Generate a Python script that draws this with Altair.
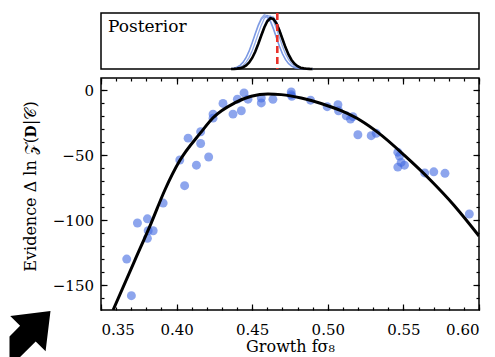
import altair as alt
import pandas as pd

# ---------------- data ----------------
fs8_pts = [0.4053, 0.3911, 0.3741, 0.3807, 0.3812, 0.3845, 0.3807, 0.3670, 0.3701,
           0.4021, 0.4131, 0.4212, 0.4076, 0.4159, 0.4159, 0.4241, 0.4241, 0.4307,
           0.4373, 0.4402, 0.4428, 0.4446, 0.4472, 0.4560, 0.4560, 0.4637, 0.4758,
           0.4758, 0.4762, 0.4886, 0.4996, 0.5067, 0.5071, 0.5122, 0.5150, 0.5166,
           0.5199, 0.5287, 0.5320, 0.5463, 0.5474, 0.5485, 0.5507, 0.5463, 0.5641,
           0.5701, 0.5775, 0.5936]
dlnz_pts = [-73.3, -86.7, -102.0, -98.8, -108.0, -108.0, -113.8, -129.8, -158.0,
            -53.5, -57.5, -51.2, -36.7, -31.8, -40.8, -18.2, -21.3, -10.0,
            -18.2, -6.7, -15.6, -1.9, -6.7, -5.8, -9.6, -6.8, -1.2,
            -3.2, -4.5, -7.5, -12.5, -11.0, -15.6, -19.5, -22.0, -20.2,
            -34.1, -34.8, -33.0, -47.5, -50.5, -55.4, -57.5, -59.0, -63.5,
            -62.6, -63.8, -95.1]

curve_fs8 = [0.3580, 0.3723, 0.3834, 0.3921, 0.4021, 0.4159, 0.4241, 0.4384, 0.4494,
             0.4604, 0.4692, 0.4824, 0.4956, 0.5088, 0.5220, 0.5331, 0.5507, 0.5683,
             0.5837, 0.6000]
curve_dlnz = [-169.0, -131.0, -101.5, -77.0, -54.0, -32.5, -21.0, -9.6, -4.5,
              -2.7, -3.2, -5.8, -10.0, -15.6, -23.3, -32.3, -50.0, -69.5,
              -88.7, -112.0]

post_grid = [0.436, 0.438, 0.440, 0.442, 0.444, 0.446, 0.448, 0.450, 0.452, 0.454,
             0.456, 0.458, 0.460, 0.462, 0.464, 0.466, 0.468, 0.470, 0.472, 0.474,
             0.476, 0.478, 0.480, 0.482, 0.484, 0.486, 0.488, 0.490]
post_black = [0.001, 0.003, 0.007, 0.015, 0.032, 0.064, 0.116, 0.197, 0.309, 0.447,
              0.598, 0.742, 0.853, 0.907, 0.893, 0.815, 0.687, 0.536, 0.387, 0.260,
              0.162, 0.093, 0.049, 0.024, 0.011, 0.005, 0.002, 0.001]
post_blue_1 = [0.003, 0.007, 0.016, 0.034, 0.068, 0.122, 0.208, 0.326, 0.472, 0.631,
               0.783, 0.900, 0.957, 0.942, 0.860, 0.725, 0.565, 0.408, 0.274, 0.171,
               0.098, 0.052, 0.025, 0.012, 0.005, 0.002, 0.001, 0.000]
post_blue_2 = [0.007, 0.015, 0.033, 0.066, 0.120, 0.204, 0.319, 0.462, 0.618, 0.767,
               0.881, 0.937, 0.922, 0.842, 0.710, 0.554, 0.400, 0.269, 0.167, 0.096,
               0.051, 0.025, 0.011, 0.005, 0.002, 0.001, 0.000, 0.000]
post_blue_3 = [0.001, 0.003, 0.007, 0.016, 0.033, 0.067, 0.121, 0.205, 0.321, 0.465,
               0.622, 0.772, 0.887, 0.943, 0.929, 0.848, 0.714, 0.557, 0.402, 0.270,
               0.168, 0.097, 0.051, 0.025, 0.011, 0.005, 0.002, 0.001]
post_blue_4 = [0.007, 0.015, 0.034, 0.068, 0.124, 0.211, 0.329, 0.477, 0.638, 0.792,
               0.909, 0.967, 0.952, 0.869, 0.733, 0.572, 0.413, 0.278, 0.172, 0.099,
               0.053, 0.026, 0.011, 0.005, 0.002, 0.001, 0.000, 0.000]
truth_fs8 = [0.4666]

x_major = [0.35, 0.40, 0.45, 0.50, 0.55, 0.60]
x_minor = [0.35, 0.36, 0.37, 0.38, 0.39, 0.40, 0.41, 0.42, 0.43, 0.44, 0.45, 0.46, 0.47,
           0.48, 0.49, 0.50, 0.51, 0.52, 0.53, 0.54, 0.55, 0.56, 0.57, 0.58, 0.59, 0.60]
y_major = [-150, -100, -50, 0]
y_minor = [-160, -150, -140, -130, -120, -110, -100, -90, -80, -70, -60, -50, -40,
           -30, -20, -10, 0]

X_DOMAIN = [0.35, 0.60]
Y_DOMAIN = [-169, 9.6]

# ---------------- tables ----------------
df_pts = pd.DataFrame({"fs8": fs8_pts, "dlnz": dlnz_pts})
df_curve = pd.DataFrame({"fs8": curve_fs8, "dlnz": curve_dlnz})
blue_rows = []
for name, ys_ in [("b1", post_blue_1), ("b2", post_blue_2), ("b3", post_blue_3), ("b4", post_blue_4)]:
    for xv, yv in zip(post_grid, ys_):
        blue_rows.append({"x": xv, "p": yv, "c": name})
df_blue = pd.DataFrame(blue_rows)
df_black = pd.DataFrame({"x": post_grid, "p": post_black})
df_truth = pd.DataFrame({"x": truth_fs8})

FONT = "DejaVu Serif"
xs = alt.Scale(domain=X_DOMAIN, nice=False, zero=False)
ysc = alt.Scale(domain=Y_DOMAIN, nice=False, zero=False)


def ax(orient, values, size, **kw):
    return alt.Axis(orient=orient, values=values, tickSize=size, offset=-size,
                    domain=False, grid=False, tickColor="black", tickWidth=1.2, **kw)


# ---------------- main panel ----------------
pts = alt.Chart(df_pts).mark_circle(size=80, color="#4169e1", opacity=0.6).encode(
    x=alt.X("fs8:Q", scale=xs,
            axis=ax("bottom", x_major, 6, labels=True, format=".2f", title="Growth fσ₈",
                    labelPadding=12, titlePadding=1)),
    y=alt.Y("dlnz:Q", scale=ysc,
            axis=ax("left", y_major, 6, labels=True, title="Evidence Δ ln 𝒵(𝐃|𝒞)",
                    labelPadding=7.5, titlePadding=14, titleY=108)),
)
curve = alt.Chart(df_curve).mark_line(color="black", strokeWidth=3, interpolate="monotone",
                                      clip=True).encode(
    x=alt.X("fs8:Q", scale=xs, axis=ax("bottom", x_minor, 3, labels=False, title=None)),
    y=alt.Y("dlnz:Q", scale=ysc, axis=ax("left", y_minor, 3, labels=False, title=None)),
)
mirror_major = alt.Chart(df_pts).mark_point(opacity=0).encode(
    x=alt.X("fs8:Q", scale=xs, axis=ax("top", x_major, 6, labels=False, title=None)),
    y=alt.Y("dlnz:Q", scale=ysc, axis=ax("right", y_major, 6, labels=False, title=None)),
)
mirror_minor = alt.Chart(df_pts).mark_point(opacity=0).encode(
    x=alt.X("fs8:Q", scale=xs, axis=ax("top", x_minor, 3, labels=False, title=None)),
    y=alt.Y("dlnz:Q", scale=ysc, axis=ax("right", y_minor, 3, labels=False, title=None)),
)
ARROW = ("M0.479,-0.5625 L0.377,0.277 L0.171,0.071 L-0.375,0.617 L-0.375,-0.033 "
         "L-0.154,-0.254 L-0.36,-0.46 Z")
arrow = alt.Chart(pd.DataFrame({"a": [0]})).mark_point(
    shape=ARROW, filled=True, color="black", opacity=1, size=9216, strokeWidth=0
).encode(x=alt.value(-73.5), y=alt.value(260))

main = alt.layer(pts, curve, mirror_major, mirror_minor, arrow).resolve_axis(
    x="independent", y="independent").properties(width=378, height=232)

# ---------------- posterior panel ----------------
pys = alt.Scale(domain=[0, 1], nice=False, zero=False)
blue = alt.Chart(df_blue).mark_line(color="#6f8fe0", strokeWidth=1.3, opacity=0.75).encode(
    x=alt.X("x:Q", scale=xs, axis=None),
    y=alt.Y("p:Q", scale=pys, axis=None),
    detail="c:N",
)
black = alt.Chart(df_black).mark_line(color="black", strokeWidth=2.6).encode(
    x=alt.X("x:Q", scale=xs, axis=None),
    y=alt.Y("p:Q", scale=pys, axis=None),
)
truth = alt.Chart(df_truth).mark_rule(color="#e8322b", strokeWidth=2.6, strokeDash=[7, 4]).encode(
    x=alt.X("x:Q", scale=xs, axis=None),
)
label = alt.Chart(pd.DataFrame({"t": ["Posterior"]})).mark_text(
    align="left", baseline="alphabetic", font=FONT, fontSize=17, color="black"
).encode(x=alt.value(7), y=alt.value(19), text="t:N")

top = alt.layer(blue, black, truth, label).properties(width=378, height=56)

chart = alt.vconcat(top, main, spacing=9, bounds="flush").properties(
    padding={"left": 0, "top": 2, "right": 0, "bottom": 0}
).configure_view(stroke="black", strokeWidth=1.5).configure_axis(
    labelFont=FONT, titleFont=FONT, labelFontSize=15, titleFontSize=16,
    labelColor="black", titleColor="black", titleFontWeight="normal"
)

chart.save("out.html", embed_options={"renderer": "svg", "actions": False})
